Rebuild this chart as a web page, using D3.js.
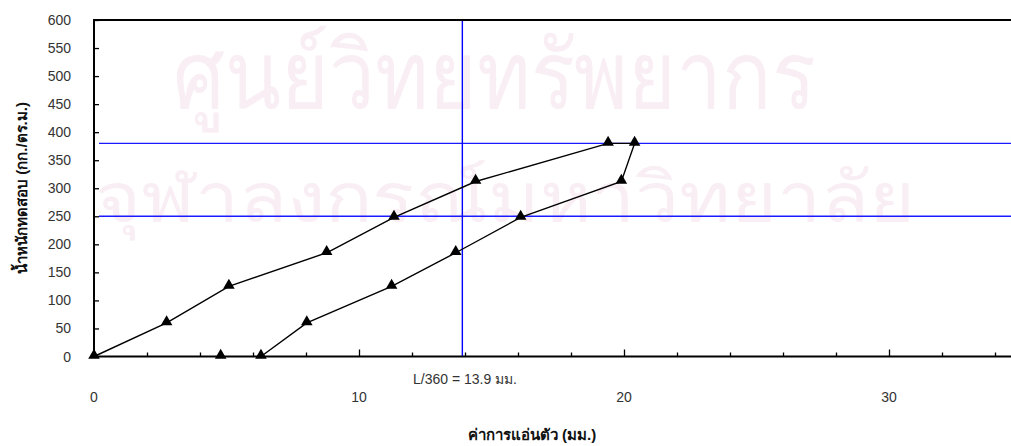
<!DOCTYPE html>
<html>
<head>
<meta charset="utf-8">
<script src="https://cdn.jsdelivr.net/npm/d3@7"></script>
<style>
  body { margin: 0; background: #fff; }
  text { font-family: "Liberation Sans", Arial, sans-serif; }
</style>
</head>
<body>
<div class="chart"></div>
<script>
// test data: deflection (mm) vs applied load (kg/m2), load then unload
var deflection = [0, 2.74, 5.09, 8.78, 11.32, 14.4, 19.4, 20.4, 19.9, 16.1, 13.65, 11.23, 8.03, 6.3];
var load = [0, 60, 125, 185, 248, 312, 380, 380, 312, 248, 185, 125, 60, 0];
var recovered = [{ x: 4.78, y: 0 }];
var limitDeflection = 13.9;
var limitLoads = [380, 250];
var yTicks = d3.range(0, 601, 50);
var xLabels = [0, 10, 20, 30];

var width = 1011;
var height = 446;
var margin = { top: 20, left: 94, bottom: 89.5 };

var svg = d3
  .select(".chart")
  .append("svg")
  .attr("width", width)
  .attr("height", height);

var xScale = d3.scaleLinear().domain([0, 35]).range([margin.left, margin.left + 35 * 26.5]);
var yScale = d3.scaleLinear().domain([0, 600]).range([height - margin.bottom, margin.top]);

// faint watermark behind the plot
var wm = svg.append("g").attr("fill", "#f8eef4").attr("font-family", "'Noto Sans Thai', 'Noto Sans', sans-serif");
wm.append("text")
  .attr("x", 173)
  .attr("y", 108)
  .attr("font-size", 94)
  .attr("textLength", 642)
  .attr("lengthAdjust", "spacingAndGlyphs")
  .text("ศูนย์วิทยทรัพยากร");
wm.append("text")
  .attr("x", 95)
  .attr("y", 222)
  .attr("font-size", 70)
  .attr("textLength", 820)
  .attr("lengthAdjust", "spacingAndGlyphs")
  .text("จุฬาลงกรณ์มหาวิทยาลัย");

// reference lines
svg.selectAll(".hline")
  .data(limitLoads)
  .enter()
  .append("line")
  .attr("class", "hline")
  .attr("x1", margin.left + 5)
  .attr("x2", width)
  .attr("y1", d => yScale(d))
  .attr("y2", d => yScale(d))
  .attr("stroke", "#1a1aff")
  .attr("stroke-width", 1.4);

svg.append("line")
  .attr("x1", xScale(limitDeflection))
  .attr("x2", xScale(limitDeflection))
  .attr("y1", yScale(600))
  .attr("y2", yScale(0))
  .attr("stroke", "#0000ff")
  .attr("stroke-width", 1.4);

// axes
var yAxis = d3.axisRight(yScale).tickValues(yTicks).tickSize(5).tickFormat("");
svg.append("g")
  .attr("transform", `translate(${margin.left},0)`)
  .call(yAxis)
  .call(g => g.select(".domain").remove())
  .selectAll("line")
  .attr("stroke", "#000")
  .attr("stroke-width", 1.3);

svg.selectAll(".ylabel")
  .data(yTicks)
  .enter()
  .append("text")
  .attr("class", "ylabel")
  .attr("x", 71)
  .attr("y", d => yScale(d) + 5)
  .attr("text-anchor", "end")
  .attr("font-size", 14)
  .attr("fill", "#333")
  .text(d => d);

var xMinor = d3.axisTop(xScale).tickValues(d3.range(2, 35, 2).filter(d => d % 10)).tickSize(4).tickFormat("");
var xMajor = d3.axisTop(xScale).tickValues([10, 20, 30]).tickSize(7).tickFormat("");
[xMinor, xMajor].forEach(ax => {
  svg.append("g")
    .attr("transform", `translate(0,${yScale(0)})`)
    .call(ax)
    .call(g => g.select(".domain").remove())
    .selectAll("line")
    .attr("stroke", "#000")
    .attr("stroke-width", 1.3);
});

svg.selectAll(".xlabel")
  .data(xLabels)
  .enter()
  .append("text")
  .attr("class", "xlabel")
  .attr("x", d => xScale(d))
  .attr("y", 402)
  .attr("text-anchor", "middle")
  .attr("font-size", 14)
  .attr("fill", "#333")
  .text(d => d);

// frame: left axis, bottom axis, top border
svg.append("path")
  .attr("d", `M${width},${yScale(600)}H${margin.left}V${yScale(0)}H${width}`)
  .attr("fill", "none")
  .attr("stroke", "#000")
  .attr("stroke-width", 2);

// data line and markers
var pts = deflection.map((d, i) => ({ x: d, y: load[i] }));
var line = d3.line().x(d => xScale(d.x)).y(d => yScale(d.y));

svg.append("path")
  .datum(pts)
  .attr("d", line)
  .attr("fill", "none")
  .attr("stroke", "#000")
  .attr("stroke-width", 1.4);

var tri = d3.symbol().type(d3.symbolTriangle).size(58);
svg.selectAll(".pt")
  .data(pts.concat(recovered))
  .enter()
  .append("path")
  .attr("class", "pt")
  .attr("d", tri)
  .attr("transform", d => `translate(${xScale(d.x)},${yScale(d.y) - 1})`)
  .attr("fill", "#000");

// annotations and titles
svg.append("text")
  .attr("x", 465)
  .attr("y", 384)
  .attr("text-anchor", "middle")
  .attr("font-size", 14)
  .attr("fill", "#333")
  .text("L/360 = 13.9 มม.");

svg.append("text")
  .attr("x", 532)
  .attr("y", 440)
  .attr("text-anchor", "middle")
  .attr("font-size", 15)
  .attr("font-weight", "bold")
  .attr("fill", "#111")
  .text("ค่าการแอ่นตัว (มม.)");

svg.append("text")
  .attr("transform", `translate(27,188) rotate(-90)`)
  .attr("text-anchor", "middle")
  .attr("font-size", 15)
  .attr("font-weight", "bold")
  .attr("fill", "#111")
  .text("น้ำหนักทดสอบ (กก./ตร.ม.)");
</script>
</body>
</html>
